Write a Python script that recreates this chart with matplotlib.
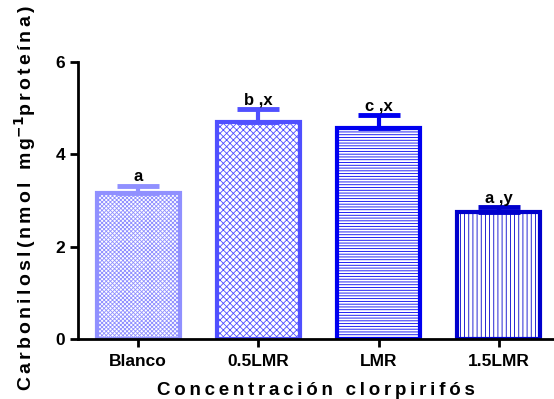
import numpy as np
import matplotlib.pyplot as plt

# ------------------------ Data ------------------------ #
groups = ['Blanco', '0.5LMR', 'LMR', '1.5LMR']
means = [3.16, 4.70, 4.57, 2.75]
errors = [0.15, 0.28, 0.28, 0.10]
letters = ['a', 'b ,x', 'c ,x', 'a ,y']

colors = ['#9090ff', '#5050ff', '#0000f0', '#0000cc']
hatches = ['xxxxxxxx', 'xxxxx', '------', '||||']

plt.rcParams['font.family'] = ['Liberation Sans', 'DejaVu Sans']
plt.rcParams['font.weight'] = 'bold'
plt.rcParams['hatch.linewidth'] = 0.6


def spaced(s, gap):
  # widen letter spacing like the original figure
  return gap.join(s)


# ------------------------ Plot ------------------------ #
fig = plt.figure(figsize=(5.54, 3.99), dpi=100)
ax = fig.add_axes([0.141, 0.150, 0.859, 0.695])

x = np.arange(len(groups))
for i in range(len(groups)):
  ax.bar(x[i], means[i], width=0.69, color='white', edgecolor=colors[i],
         hatch=hatches[i], linewidth=3, zorder=2)
  ax.errorbar(x[i], means[i], yerr=[[0], [errors[i]]], fmt='none',
              ecolor=colors[i], elinewidth=3, capsize=15, capthick=3.5, zorder=3)
  ax.text(x[i], means[i] + errors[i] + 0.04, letters[i], ha='center', va='bottom',
          fontsize=12, fontweight='bold')

ax.set_xlim(-0.5, 3.46)
ax.set_ylim(0, 6)
ax.set_yticks([0, 2, 4, 6])
ax.set_xticks(x)
ax.set_xticklabels(groups)

for side in ['top', 'right']:
  ax.spines[side].set_visible(False)
for side in ['left', 'bottom']:
  ax.spines[side].set_linewidth(2)

ax.tick_params(axis='both', width=2, length=6, labelsize=12.5)
ax.tick_params(axis='x', pad=5)

ax.set_xlabel(spaced('Concentración clorpirifós', '\u2009'), fontsize=13.5,
              fontweight='bold', labelpad=9)
ax.set_ylabel(spaced('Carbonilosl(nmol mg', '\u200a\u200a') + '$^{\\mathbf{-1}}$'
              + spaced('proteína)', '\u200a\u200a'), fontsize=14, fontweight='bold')
ax.yaxis.set_label_coords(-0.085, 0.507)

fig.savefig('out.png', dpi=100)
